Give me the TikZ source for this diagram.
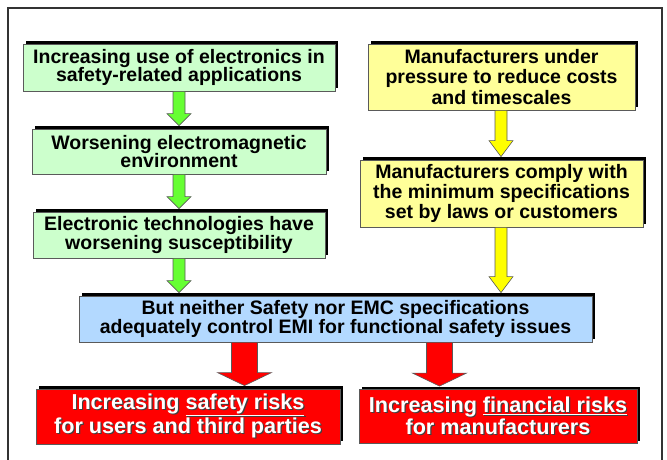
\documentclass[tikz,border=0pt]{standalone}
\usepackage{fontspec}
\setmainfont{Liberation Sans}
\usetikzlibrary{shadows,calc}

\definecolor{greenfill}{RGB}{204,255,204}
\definecolor{yellowfill}{RGB}{255,255,153}
\definecolor{bluefill}{RGB}{179,217,255}
\definecolor{redfill}{RGB}{255,0,0}
\definecolor{greenarrow}{RGB}{102,255,51}
\definecolor{yellowarrow}{RGB}{255,255,0}
\definecolor{redarrow}{RGB}{255,0,0}
\definecolor{edgegray}{RGB}{90,90,90}

\tikzset{
  box/.style={draw=edgegray, line width=0.8pt, align=center, inner sep=0pt,
    font=\bfseries\fontsize{19.5}{18.7}\selectfont,
    general shadow={fill=black, shadow xshift=3pt, shadow yshift=3pt}},
  greenbox/.style={box, fill=greenfill},
  yellowbox/.style={box, fill=yellowfill, font=\bfseries\fontsize{19.5}{20.3}\selectfont},
  bluebox/.style={box, fill=bluefill},
  redbox/.style={box, fill=redfill, text=white, font=\bfseries\fontsize{21.6}{22}\selectfont},
  arrowbody/.style={draw=edgegray, line width=0.6pt, line join=miter},
  greenflow/.style={arrowbody, fill=greenarrow},
  yellowflow/.style={arrowbody, fill=yellowarrow},
  redflow/.style={arrowbody, fill=redarrow},
  frame/.style={draw=black!80, line width=1.5pt}
}

% white lettering with a dark offset copy behind it
\newcommand\shtext[1]{\rlap{\kern1.2pt\raisebox{-1.2pt}{\color{black!75}#1}}#1}

% block arrow: style, source node, target node, x (pt), half shaft, half head, head length
\newcommand\blockarrow[7]{%
  \draw[#1] let \p1=(#2.south), \p2=(#3.north) in
    ({(#4-#5)*1pt},\y1) -- ({(#4-#5)*1pt},{\y2+(3+#7)*1pt})
    -- ({(#4-#6)*1pt},{\y2+(3+#7)*1pt}) -- ({#4*1pt},{\y2+3pt})
    -- ({(#4+#6)*1pt},{\y2+(3+#7)*1pt}) -- ({(#4+#5)*1pt},{\y2+(3+#7)*1pt})
    -- ({(#4+#5)*1pt},\y1) -- cycle;}

\begin{document}
\begin{tikzpicture}[x=1pt,y=-1pt]
  \useasboundingbox (0,0) rectangle (667,459);
  \draw[frame] (8,8) rectangle (662,475);

  % left chain
  \node[greenbox, minimum width=312pt, minimum height=47pt] (g1) at (179,67.5)
    {Increasing use of electronics in\\safety-related applications};
  \node[greenbox, minimum width=294pt, minimum height=45pt] (g2) at (179,151.5)
    {Worsening electromagnetic\\environment};
  \node[greenbox, minimum width=292pt, minimum height=46pt] (g3) at (179,235)
    {Electronic technologies have\\worsening susceptibility};

  % right chain
  \node[yellowbox, minimum width=267pt, minimum height=66pt] (y1) at (501.5,77)
    {Manufacturers under\\pressure to reduce costs\\and timescales};
  \node[yellowbox, minimum width=283pt, minimum height=67pt] (y2) at (501.5,193.5)
    {Manufacturers comply with\\the minimum specifications\\set by laws or customers};

  % common consequence
  \node[bluebox, minimum width=513pt, minimum height=46pt] (b) at (335.5,319)
    {But neither Safety nor EMC specifications\\adequately control EMI for functional safety issues};

  % outcomes
  \node[redbox, minimum width=304pt, minimum height=55pt] (r1) at (188,416.5)
    {\shtext{Increasing \underline{safety risks}}\\\shtext{for users and third parties}};
  \node[redbox, minimum width=278pt, minimum height=54pt] (r2) at (498,416.5)
    {\shtext{Increasing \underline{financial risks}}\\\shtext{for manufacturers}};

  % arrows
  \blockarrow{greenflow}{g1}{g2}{179}{6}{12}{12}
  \blockarrow{greenflow}{g2}{g3}{179}{6}{12}{12}
  \blockarrow{greenflow}{g3}{b}{179}{6}{12}{12}
  \blockarrow{yellowflow}{y1}{y2}{501}{6}{12}{16}
  \blockarrow{yellowflow}{y2}{b}{501}{6}{12}{16}
  \blockarrow{redflow}{b}{r1}{244.5}{13}{27}{13}
  \blockarrow{redflow}{b}{r2}{439.5}{13}{27}{13}
\end{tikzpicture}
\end{document}
